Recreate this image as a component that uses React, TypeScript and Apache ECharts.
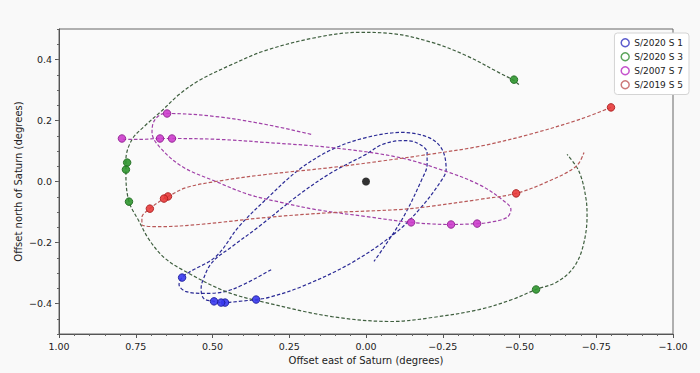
import React, { useEffect, useRef } from "react";
import * as echarts from "echarts";

// ---- Data (degrees offset from Saturn: [east, north]) ----
const moonNames = ["S/2020 S 1", "S/2020 S 3", "S/2007 S 7", "S/2019 S 5"];

const s2020s1Path: [number, number][] = [
  [0.309, -0.289], [0.436, -0.354], [0.521, -0.367], [0.586, -0.361], [0.609, -0.338],
  [0.599, -0.315], [0.577, -0.298], [0.489, -0.246], [0.414, -0.148], [0.326, -0.059],
  [0.218, 0.039], [0.111, 0.105], [0.0, 0.144], [-0.117, 0.161], [-0.205, 0.144],
  [-0.248, 0.105], [-0.261, 0.039], [-0.248, 0.007], [-0.182, -0.082], [-0.098, -0.167],
  [0.046, -0.266], [0.208, -0.344], [0.316, -0.38], [0.358, -0.387], [0.414, -0.393],
  [0.459, -0.397], [0.472, -0.397], [0.495, -0.393], [0.528, -0.384], [0.537, -0.354],
  [0.534, -0.331], [0.502, -0.266], [0.436, -0.213], [0.349, -0.148], [0.218, -0.043],
  [0.111, 0.03], [0.0, 0.089], [-0.052, 0.121], [-0.117, 0.134], [-0.163, 0.128],
  [-0.199, 0.095], [-0.199, 0.056], [-0.182, 0.007], [-0.117, -0.125], [-0.026, -0.262],
];
const s2020s1Obs: [number, number][] = [
  [0.599, -0.315], [0.358, -0.387], [0.459, -0.397], [0.472, -0.397], [0.495, -0.393],
];

const s2020s3Path: [number, number][] = [
  [-0.498, 0.318], [-0.482, 0.331], [-0.433, 0.357], [-0.326, 0.413], [-0.215, 0.456],
  [-0.085, 0.485], [0.023, 0.489], [0.163, 0.472], [0.326, 0.43], [0.436, 0.384],
  [0.544, 0.331], [0.609, 0.285], [0.664, 0.233], [0.723, 0.18], [0.762, 0.138],
  [0.782, 0.072], [0.782, 0.023], [0.772, -0.066], [0.739, -0.131], [0.707, -0.19],
  [0.658, -0.249], [0.599, -0.289], [0.456, -0.361], [0.326, -0.397], [0.111, -0.443],
  [-0.085, -0.459], [-0.215, -0.446], [-0.368, -0.42], [-0.476, -0.387], [-0.554, -0.354],
  [-0.619, -0.331], [-0.671, -0.289], [-0.704, -0.223], [-0.72, -0.115], [-0.717, -0.059],
  [-0.694, 0.033], [-0.655, 0.089],
];
const s2020s3Obs: [number, number][] = [
  [-0.482, 0.334], [0.778, 0.062], [0.782, 0.039], [0.772, -0.066], [-0.554, -0.354],
];

const s2007s7Path: [number, number][] = [
  [0.792, 0.138], [0.739, 0.138], [0.671, 0.141], [0.632, 0.141], [0.479, 0.138],
  [0.326, 0.128], [0.111, 0.111], [-0.107, 0.079], [-0.261, 0.033], [-0.368, -0.01],
  [-0.443, -0.059], [-0.472, -0.092], [-0.459, -0.118], [-0.401, -0.134], [-0.362, -0.138],
  [-0.277, -0.141], [-0.147, -0.134], [0.0, -0.115], [0.163, -0.092], [0.274, -0.069],
  [0.381, -0.043], [0.489, 0.0], [0.599, 0.049], [0.674, 0.115], [0.697, 0.161],
  [0.691, 0.197], [0.668, 0.22], [0.648, 0.223], [0.489, 0.213], [0.326, 0.187],
  [0.176, 0.154],
];
const s2007s7Obs: [number, number][] = [
  [0.795, 0.141], [0.671, 0.141], [0.632, 0.141], [0.648, 0.223],
  [-0.147, -0.134], [-0.277, -0.141], [-0.362, -0.138],
];

const s2019s5Path: [number, number][] = [
  [-0.798, 0.243], [-0.694, 0.203], [-0.531, 0.154], [-0.368, 0.115], [-0.205, 0.089],
  [-0.042, 0.066], [0.111, 0.046], [0.326, 0.023], [0.489, 0.0], [0.586, -0.02],
  [0.645, -0.049], [0.658, -0.056], [0.704, -0.089], [0.73, -0.118], [0.73, -0.141],
  [0.674, -0.148], [0.544, -0.141], [0.326, -0.118], [0.111, -0.102], [-0.107, -0.092],
  [-0.205, -0.082], [-0.368, -0.059], [-0.489, -0.039], [-0.586, -0.003], [-0.684, 0.049],
  [-0.71, 0.095],
];
const s2019s5Obs: [number, number][] = [
  [-0.798, 0.243], [-0.489, -0.039], [0.645, -0.049], [0.658, -0.056], [0.704, -0.089],
];

const saturn: [number, number][] = [[0, 0]];

const yTicks = [-0.4, -0.2, 0, 0.2, 0.4];

// ---- Styles ----
const markerColors = ["#3838ee", "#2f962f", "#cc3ccc", "#e83a3a"];
const markerEdges = ["#1f1f9a", "#1f6a1f", "#8f248f", "#a82020"];
const lineColors = ["#2a2a95", "#3f5f3f", "#a040a8", "#b85858"];
const legendColors = ["#4a4ac8", "#4a9a4a", "#c040c8", "#c86a6a"];

const paths = [s2020s1Path, s2020s3Path, s2007s7Path, s2019s5Path];
const obs = [s2020s1Obs, s2020s3Obs, s2007s7Obs, s2019s5Obs];

const fmt = (v: number, d: number) => {
  const s = Math.abs(v).toFixed(d);
  return v < -1e-9 ? "\u2212" + s : s;
};

export default function App() {
  const ref = useRef<HTMLDivElement>(null);
  useEffect(() => {
    if (!ref.current) return;
    const chart = echarts.init(ref.current, undefined, { renderer: "svg" });
    const font = "DejaVu Sans";
    const series: any[] = [];
    paths.forEach((p, i) => {
      series.push({
        name: moonNames[i] + " orbit",
        type: "line",
        data: p,
        smooth: 0.35,
        showSymbol: false,
        symbol: "none",
        lineStyle: { color: lineColors[i], width: 1.2, type: [3.5, 2] },
        z: 2,
        silent: true,
      });
    });
    obs.forEach((o, i) => {
      series.push({
        name: moonNames[i],
        type: "scatter",
        data: o,
        symbol: "circle",
        symbolSize: 7.5,
        itemStyle: {
          color: markerColors[i],
          borderColor: markerEdges[i],
          borderWidth: 1,
          opacity: 0.9,
        },
        z: 4,
      });
    });
    series.push({
      name: "Saturn",
      type: "scatter",
      data: saturn,
      symbolSize: 8,
      itemStyle: { color: "#000" },
      z: 5,
    });

    chart.setOption({
      animation: false,
      backgroundColor: "#f9f9f9",
      color: legendColors,
      grid: {
        left: 59,
        right: 27,
        top: 29,
        bottom: 39,
        show: true,
        borderColor: "#666",
        borderWidth: 1,
        backgroundColor: "#fafafa",
      },
      legend: {
        data: moonNames.map((n, i) => ({
          name: n,
          icon: "circle",
          itemStyle: {
            color: "transparent",
            borderColor: legendColors[i],
            borderWidth: 1.5,
          },
        })),
        orient: "vertical",
        right: 11,
        top: 33,
        itemWidth: 8,
        itemHeight: 8,
        itemGap: 4.5,
        padding: [5, 6, 5, 6],
        backgroundColor: "#ffffff",
        borderColor: "#d4d4d4",
        borderWidth: 1,
        borderRadius: 3,
        textStyle: { fontFamily: font, fontSize: 9, color: "#222" },
      },
      xAxis: {
        type: "value",
        inverse: true,
        min: -1,
        max: 1,
        interval: 0.25,
        name: "Offset east of Saturn (degrees)",
        nameLocation: "middle",
        nameGap: 20,
        nameTextStyle: { fontFamily: font, fontSize: 10, color: "#222" },
        axisLine: { show: true, onZero: false, lineStyle: { color: "#555" } },
        axisTick: { show: true, length: 4, inside: false, lineStyle: { color: "#555" } },
        minorTick: { show: true, splitNumber: 5, length: 2, lineStyle: { color: "#666" } },
        splitLine: { show: false },
        axisLabel: {
          fontFamily: font,
          fontSize: 9.5,
          color: "#222",
          margin: 7,
          formatter: (v: number) => fmt(v, 2),
        },
      },
      yAxis: [
        {
          type: "value",
          min: -0.5,
          max: 0.5,
          interval: 0.05,
          name: "Offset north of Saturn (degrees)",
          nameLocation: "middle",
          nameGap: 36,
          nameMoveOverlap: false,
          nameTextStyle: { fontFamily: font, fontSize: 10, color: "#222" },
          axisLine: { show: true, onZero: false, lineStyle: { color: "#555" } },
          axisTick: { show: true, length: 4, customValues: yTicks, lineStyle: { color: "#555" } },
          splitLine: { show: false },
          axisLabel: {
            fontFamily: font,
            fontSize: 9.5,
            color: "#222",
            margin: 7,
            customValues: yTicks,
            formatter: (v: number) => fmt(v, 1),
          },
        },
        {
          type: "value",
          min: -0.5,
          max: 0.5,
          interval: 0.05,
          position: "left",
          axisLine: { show: false, onZero: false },
          axisTick: { show: true, length: 2, lineStyle: { color: "#666" } },
          axisLabel: { show: false },
          splitLine: { show: false },
        },
      ],
      series,
    });
    return () => chart.dispose();
  }, []);
  return <div ref={ref} style={{ width: 700, height: 373, position: "absolute", left: 0, top: 0 }} />;
}
